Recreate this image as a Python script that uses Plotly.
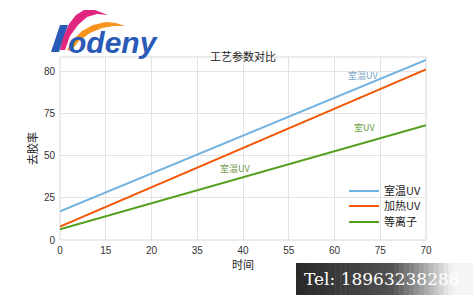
import plotly.graph_objects as go

# ---- data ----
time = [0, 70]
room_uv = [17.0, 106.5]
heat_uv = [8.0, 101.0]
plasma = [6.3, 68.0]
series_names = ["室温UV", "加热UV", "等离子"]
x_tickvals = [0, 8.75, 17.5, 26.25, 35, 43.75, 52.5, 61.25, 70]
x_ticktext = ["0", "15", "20", "35", "40", "55", "60", "75", "70"]
y_tickvals = [0, 25, 50, 75, 100]
y_ticktext = ["0", "25", "50", "75", "80"]

W, H = 473, 300
L, R, T, B = 60, 426, 57, 240  # plot area in pixels


def px(x):
    return (x - L) / (R - L)


def py(y):
    return (B - y) / (B - T)


colors = ["#72b2e0", "#f25a0a", "#52a01c"]
legend_ids = ["legend", "legend2", "legend3"]
legend_rows = [191, 206, 222]

fig = go.Figure()
for name, ys, c, lg in zip(series_names, [room_uv, heat_uv, plasma], colors, legend_ids):
    fig.add_trace(go.Scatter(x=time, y=ys, mode="lines", name=name, legend=lg,
                             showlegend=True, line=dict(color=c, width=2)))

shapes = []
shapes.append(dict(type="rect", xref="paper", yref="paper", x0=0, x1=1, y0=0, y1=1,
                   line=dict(color="#d8d8d8", width=1), layer="below"))


def path(points):
    return "M " + " L ".join(f"{px(a):.4f},{py(b):.4f}" for a, b in points) + " Z"


blue_bar = [(51, 52), (59, 52), (68, 25), (60, 25)]
pink = [(60, 50), (63, 38), (69, 24), (76, 15), (84, 10), (95, 10), (108, 15),
        (97, 14), (87, 17), (78, 25), (70, 36), (65, 50)]
orange = [(67, 50), (73, 40), (82, 31), (93, 25), (106, 22), (116, 23), (125, 26),
          (114, 26), (102, 28), (90, 33), (79, 41), (71, 51)]
shapes.append(dict(type="path", xref="paper", yref="paper", path=path(blue_bar),
                   fillcolor="#2a5ab7", line=dict(width=0)))
shapes.append(dict(type="path", xref="paper", yref="paper", path=path(pink),
                   fillcolor="#e0267e", line=dict(width=0)))
shapes.append(dict(type="path", xref="paper", yref="paper", path=path(orange),
                   fillcolor="#f7941d", line=dict(width=0)))

# tel banner gradient
n = 36
x0b, x1b = 296, 473
for i in range(n):
    t = i / (n - 1)
    if t < 0.55:
        g = int(42 + 40 * t / 0.55)
    else:
        g = int(82 + (245 - 82) * min(1, (t - 0.55) / 0.35))
    xa = x0b + (x1b - x0b) * i / n
    xb = x0b + (x1b - x0b) * (i + 1) / n + 0.5
    shapes.append(dict(type="rect", xref="paper", yref="paper",
                       x0=px(xa), x1=px(xb), y0=py(295), y1=py(263),
                       fillcolor=f"rgb({g},{g},{g})", line=dict(width=0)))

annotations = [
    dict(text="<b><i>odeny</i></b>", x=px(66), y=py(43), xref="paper", yref="paper",
         xanchor="left", yanchor="middle", showarrow=False,
         font=dict(family="Liberation Sans", size=30, color="#2a5ab7")),
    dict(text="工艺参数对比", x=px(243), y=py(46), xref="paper", yref="paper",
         showarrow=False, font=dict(family="Noto Sans CJK SC", size=11, color="#222")),
    dict(text="室温UV", x=px(380), y=py(67), xref="paper", yref="paper",
         showarrow=False, font=dict(family="Noto Sans CJK SC", size=9, color="#7aa6c8")),
    dict(text="室UV", x=px(377), y=py(127), xref="paper", yref="paper",
         showarrow=False, font=dict(family="Noto Sans CJK SC", size=9, color="#6a9e3a")),
    dict(text="室温UV", x=px(235), y=py(168), xref="paper", yref="paper",
         showarrow=False, font=dict(family="Noto Sans CJK SC", size=9, color="#729a4a")),
    dict(text="Tel: 18963238288", x=px(302), y=py(279), xref="paper", yref="paper",
         xanchor="left", yanchor="middle", showarrow=False,
         font=dict(family="DejaVu Serif", size=17, color="#ffffff")),
]

legend_style = dict(xanchor="left", yanchor="middle", bgcolor="rgba(0,0,0,0)",
                    font=dict(family="Noto Sans CJK SC", size=11, color="#222"),
                    itemwidth=30, visible=True)
legends = {}
for lg, row in zip(legend_ids, legend_rows):
    legends[lg] = dict(x=px(344), y=py(row), **legend_style)

fig.update_layout(
    width=W, height=H,
    margin=dict(l=L, r=W - R, t=T, b=H - B),
    paper_bgcolor="white", plot_bgcolor="white",
    showlegend=True,
    shapes=shapes, annotations=annotations,
    font=dict(family="Liberation Sans", size=10, color="#333"),
    xaxis=dict(range=[0, 70], tickvals=x_tickvals, ticktext=x_ticktext,
               showgrid=True, gridcolor="#e3e3e3", gridwidth=1, zeroline=False,
               showline=False, ticks="", ticklabelstandoff=3,
               tickfont=dict(size=10, color="#333"),
               title=dict(text="时间", font=dict(family="Noto Sans CJK SC", size=11, color="#222"),
                          standoff=2)),
    yaxis=dict(range=[0, 108.3], tickvals=y_tickvals, ticktext=y_ticktext,
               showgrid=True, gridcolor="#e3e3e3", gridwidth=1, zeroline=False,
               showline=False, ticks="", ticklabelstandoff=4,
               tickfont=dict(size=10, color="#333"),
               title=dict(text="去胶率", font=dict(family="Noto Sans CJK SC", size=11, color="#222"),
                          standoff=4)),
    **legends,
)

fig.write_html("out.html")
